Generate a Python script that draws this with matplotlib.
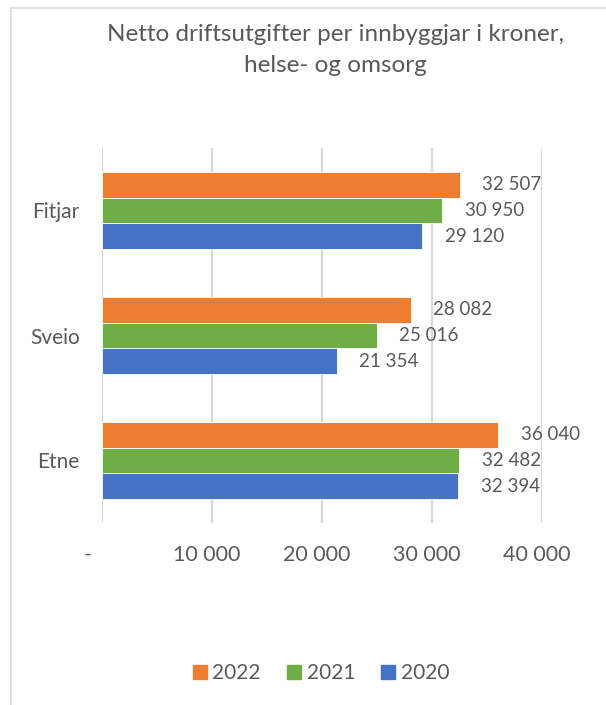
import numpy as np
import matplotlib.pyplot as plt
from matplotlib.lines import Line2D

# data
kommunar = ['Etne', 'Sveio', 'Fitjar']
years = ['2022', '2021', '2020']
v2022 = [36040, 28082, 32507]
v2021 = [32482, 25016, 30950]
v2020 = [32394, 21354, 29120]
xticks = [0, 10000, 20000, 30000, 40000]
xticklabels = ['-     ', '10 000  ', '20 000  ', '30 000  ', '40 000  ']

colors = ['#ED7D31', '#70AD47', '#4472C4']
txtcol = '#595959'

plt.rcParams['font.family'] = ['Lato', 'DejaVu Sans']

fig = plt.figure(figsize=(6.06, 7.05), dpi=100)
ax = fig.add_axes([102/606, 1-523/705, 440/606, 375/705])

y = np.arange(len(kommunar))
h = 0.205
series = [v2022, v2021, v2020]
for i, (vals, c) in enumerate(zip(series, colors)):
    pos = y + h - i*h
    ax.barh(pos, vals, height=h, color=c, edgecolor='white', linewidth=0.6,
            label=years[i], zorder=3)
    for p, v in zip(pos, vals):
        ax.annotate(f'{v:,}'.replace(',', ' '), (v, p), xytext=(16, 0),
                    textcoords='offset points', ha='left', va='center',
                    fontsize=13.5, color=txtcol)

ax.set_xlim(0, 40000)
ax.set_ylim(-0.5, 2.5)
ax.set_xticks(xticks)
ax.set_xticklabels(xticklabels)
ax.set_yticks(y)
ax.set_yticklabels(kommunar)
ax.tick_params(axis='both', length=0, labelcolor=txtcol)
ax.tick_params(axis='x', pad=16, labelsize=15.5)
ax.tick_params(axis='y', pad=16, labelsize=15)
ax.grid(axis='x', color='#D9D9D9', linewidth=1.6, zorder=0)
for s in ax.spines.values():
    s.set_visible(False)

fig.text(0.553, 0.929, 'Netto driftsutgifter per innbyggjar i kroner,\nhelse- og omsorg',
         ha='center', va='center', fontsize=17.5, color=txtcol, linespacing=1.6)

handles = [Line2D([], [], marker='s', linestyle='', markersize=9.5, color=c) for c in colors]
fig.legend(handles, years, loc='center', bbox_to_anchor=(0.527, 1-673/705), ncol=3,
           frameon=False, fontsize=15, labelcolor=txtcol, handletextpad=0.1,
           columnspacing=1.1, handlelength=1.0)

# chart border (left and top)
fig.add_artist(Line2D([11/606, 11/606], [0, 1-8/705], transform=fig.transFigure,
                      color='#D9D9D9', linewidth=1.2))
fig.add_artist(Line2D([11/606, 1], [1-8/705, 1-8/705], transform=fig.transFigure,
                      color='#D9D9D9', linewidth=1.2))

fig.savefig('out.png', dpi=100)
